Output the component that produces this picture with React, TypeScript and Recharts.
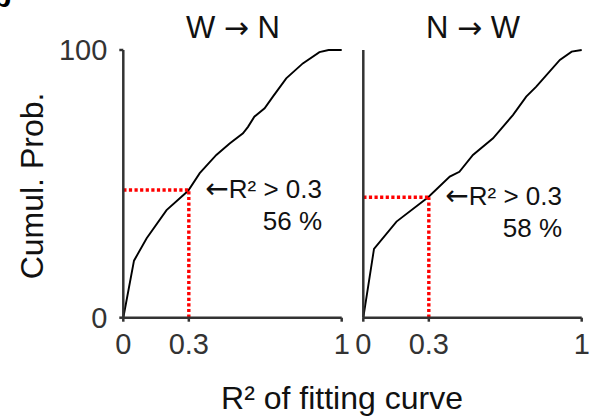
import {
  LineChart,
  Line,
  XAxis,
  YAxis,
  ReferenceLine,
} from "recharts";

// panel 1: W -> N
const wnX = [0, 0.049, 0.107, 0.198, 0.297, 0.35, 0.426, 0.487, 0.548, 0.571, 0.6, 0.647, 0.685, 0.746, 0.822, 0.898, 0.94, 1];
const wnY = [0, 21.3, 29.7, 40.2, 47.4, 54, 60.8, 65.1, 68.9, 71.3, 75.1, 78.2, 82.6, 89.4, 95, 99.2, 100, 100];

// panel 2: N -> W
const nwX = [0, 0.049, 0.152, 0.297, 0.396, 0.44, 0.502, 0.594, 0.685, 0.746, 0.792, 0.9, 0.954, 1];
const nwY = [0, 25.7, 35.9, 45, 52.7, 54.5, 60.8, 67, 75.7, 82.6, 86.3, 96.3, 99.4, 100];

const threshold = 0.3;
const wnCut = 47.7;
const nwCut = 45;

const xTicks = [0, 0.3, 1];
const yTicks = [0, 100];

const FONT = "'Liberation Sans', Arial, Helvetica, sans-serif";
const ARROW_FONT = "'DejaVu Sans', sans-serif";
const AXIS = "#333";

const toRows = (xs: number[], ys: number[]) => xs.map((x, i) => ({ x, y: ys[i] }));

function Panel({
  rows,
  cut,
  left,
  width,
  yAxisWidth,
  marginRight,
  showYTicks,
}: {
  rows: { x: number; y: number }[];
  cut: number;
  left: number;
  width: number;
  yAxisWidth: number;
  marginRight: number;
  showYTicks: boolean;
}) {
  const red = { stroke: "#ff0000", strokeWidth: 3.4, strokeDasharray: "3.2 2.4" };
  return (
    <div style={{ position: "absolute", left, top: 0 }}>
      <LineChart
        width={width}
        height={419}
        data={rows}
        margin={{ top: 50, right: marginRight, bottom: 61.3, left: 0 }}
      >
        <XAxis
          type="number"
          dataKey="x"
          domain={[0, 1]}
          ticks={xTicks}
          interval={0}
          height={40}
          tickSize={4}
          tickMargin={12}
          tick={{ fontSize: 29, fill: AXIS }}
          axisLine={{ stroke: AXIS, strokeWidth: 2.5 }}
          tickLine={{ stroke: AXIS, strokeWidth: 2.5 }}
        />
        <YAxis
          type="number"
          domain={[0, 100]}
          ticks={yTicks}
          width={yAxisWidth}
          tickSize={4}
          tickMargin={12}
          tick={showYTicks ? { fontSize: 29, fill: AXIS } : false}
          axisLine={{ stroke: AXIS, strokeWidth: 2.5 }}
          tickLine={showYTicks ? { stroke: AXIS, strokeWidth: 2.5 } : false}
        />
        <Line
          type="linear"
          dataKey="y"
          stroke="#000"
          strokeWidth={1.9}
          dot={false}
          isAnimationActive={false}
        />
        <ReferenceLine segment={[{ x: 0, y: cut }, { x: threshold, y: cut }]} {...red} />
        <ReferenceLine segment={[{ x: threshold, y: 0 }, { x: threshold, y: cut }]} {...red} />
      </LineChart>
    </div>
  );
}

export default function App() {
  return (
    <div
      style={{
        position: "absolute",
        left: 0,
        top: 0,
        width: 591,
        height: 419,
        background: "#fff",
        fontFamily: FONT,
        overflow: "hidden",
      }}
    >
      <Panel rows={toRows(wnX, wnY)} cut={wnCut} left={0} width={360} yAxisWidth={123.3} marginRight={18.3} showYTicks />
      <Panel rows={toRows(nwX, nwY)} cut={nwCut} left={340} width={251} yAxisWidth={23.3} marginRight={9.3} showYTicks={false} />
      <svg
        width={591}
        height={419}
        style={{ position: "absolute", left: 0, top: 0, pointerEvents: "none" }}
        fontFamily={FONT}
        fill="#111"
      >
        {/* panel letter, cut off by the crop */}
        <text x={-7} y={7} fontSize={30} fontWeight="bold" fill="#000">b</text>
        <text x={233} y={38} fontSize={31} textAnchor="middle">
          W <tspan fontFamily={ARROW_FONT} fontSize={30}>→</tspan> N
        </text>
        <text x={473} y={38} fontSize={31} textAnchor="middle">
          N <tspan fontFamily={ARROW_FONT} fontSize={30}>→</tspan> W
        </text>
        <text x={43} y={186} fontSize={32} textAnchor="middle" transform="rotate(-90 43 186)">
          Cumul. Prob.
        </text>
        <text x={342} y={409} fontSize={32} textAnchor="middle">R² of fitting curve</text>
        <text x={322} y={198} fontSize={26} textAnchor="end">
          <tspan fontFamily={ARROW_FONT} fontSize={28}>←</tspan>R² &gt; 0.3
        </text>
        <text x={322} y={230} fontSize={26} textAnchor="end">56 %</text>
        <text x={562} y={205} fontSize={26} textAnchor="end">
          <tspan fontFamily={ARROW_FONT} fontSize={28}>←</tspan>R² &gt; 0.3
        </text>
        <text x={562} y={237} fontSize={26} textAnchor="end">58 %</text>
      </svg>
    </div>
  );
}
